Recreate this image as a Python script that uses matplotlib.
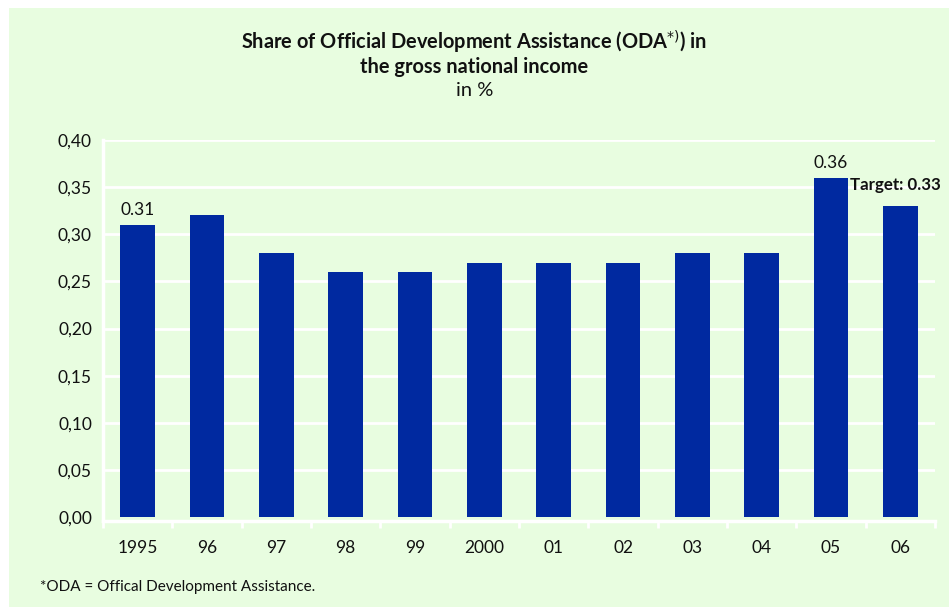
import matplotlib
matplotlib.use("Agg")
import matplotlib.pyplot as plt
from matplotlib.patches import Rectangle

# data
years = ["1995", "96", "97", "98", "99", "2000", "01", "02", "03", "04", "05", "06"]
shares = [0.31, 0.32, 0.28, 0.26, 0.26, 0.27, 0.27, 0.27, 0.28, 0.28, 0.36, 0.33]
yticks = [0.0, 0.05, 0.10, 0.15, 0.20, 0.25, 0.30, 0.35, 0.40]

BG = "#e8fde0"
BAR = "#0029a0"
plt.rcParams["font.family"] = ["Lato", "DejaVu Sans"]

fig = plt.figure(figsize=(9.49, 6.07), dpi=100)
fig.patch.set_facecolor("white")
fig.patches.append(Rectangle((9 / 949, 0), 1, 1 - 8 / 607, transform=fig.transFigure,
                             facecolor=BG, edgecolor="none", zorder=-10))

ax = fig.add_axes([103 / 949, 1 - 521 / 607, 832 / 949, 381 / 607])
ax.set_facecolor("none")

x = range(len(years))
ax.bar(x, shares, width=0.5, color=BAR, zorder=3)

ax.set_xlim(-0.5, len(years) - 0.5)
ax.set_ylim(-0.0042, 0.40)
ax.set_yticks(yticks)
ax.set_yticklabels([f"{v:.2f}".replace(".", ",") for v in yticks], fontsize=12.5, color="#111111")
ax.tick_params(axis="y", length=0, pad=8)
for v in yticks[1:]:
    ax.axhline(v, color="white", lw=2, zorder=1)

ax.set_xticks(x)
ax.set_xticklabels(years, fontsize=12.5, color="#111111")
ax.set_xticks([i - 0.5 for i in range(len(years) + 1)], minor=True)
ax.tick_params(axis="x", which="major", length=0, pad=14)
ax.tick_params(axis="x", which="minor", length=5, width=2, color="white")

for s in ["top", "right"]:
    ax.spines[s].set_visible(False)
for s in ["left", "bottom"]:
    ax.spines[s].set_color("white")
    ax.spines[s].set_linewidth(2.5)

# value labels
for i in [0, 10]:
    ax.text(i, shares[i] + 0.007, f"{shares[i]:.2f}", ha="center", va="bottom",
            fontsize=12.5, color="#111111")
ax.text(10.28, shares[10] - 0.008, f"Target: {shares[11]:.2f}", ha="left", va="center",
        fontsize=12.2, fontweight="bold", color="#111111", clip_on=False)

fig.text(0.5, 1 - 42 / 607, "Share of Official Development Assistance (ODA$^{*)}$) in",
         ha="center", va="center", fontsize=14.4, fontweight="bold", color="#111111")
fig.text(0.5, 1 - 67 / 607, "the gross national income", ha="center", va="center",
         fontsize=14.4, fontweight="bold", color="#111111")
fig.text(0.5, 1 - 91 / 607, "in %", ha="center", va="center", fontsize=14.5, color="#111111")
fig.text(40 / 949, 1 - 587 / 607, "*ODA = Offical Development Assistance.", ha="left",
         va="center", fontsize=11, color="#111111")

fig.savefig("out.png", dpi=100, facecolor=fig.get_facecolor())
